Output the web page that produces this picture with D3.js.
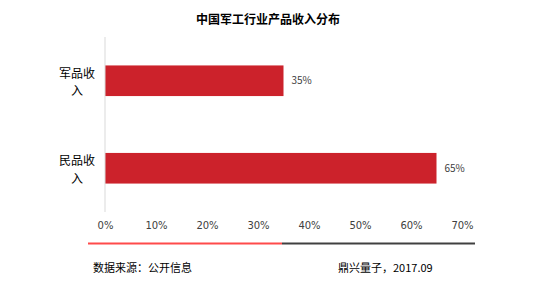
<!DOCTYPE html>
<html>
<head>
<meta charset="utf-8">
<script src="https://cdn.jsdelivr.net/npm/d3@7"></script>
<style>
  body { margin: 0; background: #fff; }
  text { font-family: "Noto Sans CJK SC", "DejaVu Sans", sans-serif; }
</style>
</head>
<body>
<svg id="canvas" width="544" height="281"></svg>
<script>
// Chart data
let categories = [["军品收", "入"], ["民品收", "入"]];
let values = [35, 65];
let ticks = [0, 10, 20, 30, 40, 50, 60, 70];
let title = "中国军工行业产品收入分布";
let source = "数据来源：公开信息";
let credit = "鼎兴量子，2017.09";

let canvas = d3.select("#canvas");

let x = d3.scaleLinear().domain([0, 70]).range([105, 462]);
let y = d3.scaleBand()
    .domain(d3.range(values.length))
    .range([37, 212])
    .paddingInner(0.65)
    .paddingOuter(0.325);

// Title
canvas.append("text")
    .attr("x", 268)
    .attr("y", 24)
    .attr("text-anchor", "middle")
    .attr("font-size", 12)
    .attr("font-weight", "bold")
    .attr("fill", "#000")
    .text(title);

// Bars
canvas.append("g")
    .selectAll("rect")
    .data(values)
    .enter()
    .append("rect")
    .attr("x", x(0))
    .attr("y", (d, i) => y(i))
    .attr("width", d => x(d) - x(0))
    .attr("height", y.bandwidth())
    .attr("fill", "#cc222b");

// Value labels
canvas.append("g")
    .selectAll("text")
    .data(values)
    .enter()
    .append("text")
    .attr("x", d => x(d) + 8)
    .attr("y", (d, i) => y(i) + y.bandwidth() / 2)
    .attr("dy", "0.35em")
    .attr("font-size", 10)
    .attr("fill", "#404040")
    .text(d => d + "%");

// Category labels, two lines each, one text per line
categories.forEach((lines, i) => {
    let cy = y(i) + y.bandwidth() / 2;
    canvas.append("g")
        .selectAll("text")
        .data(lines)
        .enter()
        .append("text")
        .attr("x", 77)
        .attr("y", (d, j) => cy - 3 + j * 17.5)
        .attr("text-anchor", "middle")
        .attr("font-size", 12)
        .attr("fill", "#000")
        .text(d => d);
});

// Vertical axis line
canvas.append("line")
    .attr("x1", x(0)).attr("x2", x(0))
    .attr("y1", 37).attr("y2", 212)
    .attr("stroke", "#d9d9d9")
    .attr("stroke-width", 1);

// X axis tick labels
let xAxis = d3.axisBottom(x)
    .tickValues(ticks)
    .tickFormat(d => d + "%")
    .tickSize(0)
    .tickPadding(0);
let gx = canvas.append("g")
    .attr("transform", "translate(0,222)")
    .call(xAxis);
gx.select(".domain").remove();
gx.selectAll("text")
    .attr("font-size", 10)
    .attr("fill", "#404040")
    .style("font-family", "'DejaVu Sans', sans-serif");

// Bottom divider line
canvas.append("line")
    .attr("x1", 88).attr("x2", 282)
    .attr("y1", 243.5).attr("y2", 243.5)
    .attr("stroke", "#ff4b4b")
    .attr("stroke-width", 2);
canvas.append("line")
    .attr("x1", 282).attr("x2", 475)
    .attr("y1", 243.5).attr("y2", 243.5)
    .attr("stroke", "#404040")
    .attr("stroke-width", 2);

// Footer
canvas.append("text")
    .attr("x", 93)
    .attr("y", 272)
    .attr("font-size", 11)
    .attr("fill", "#000")
    .text(source);
canvas.append("text")
    .attr("x", 338)
    .attr("y", 272)
    .attr("font-size", 11)
    .attr("fill", "#000")
    .text(credit);
</script>
</body>
</html>
